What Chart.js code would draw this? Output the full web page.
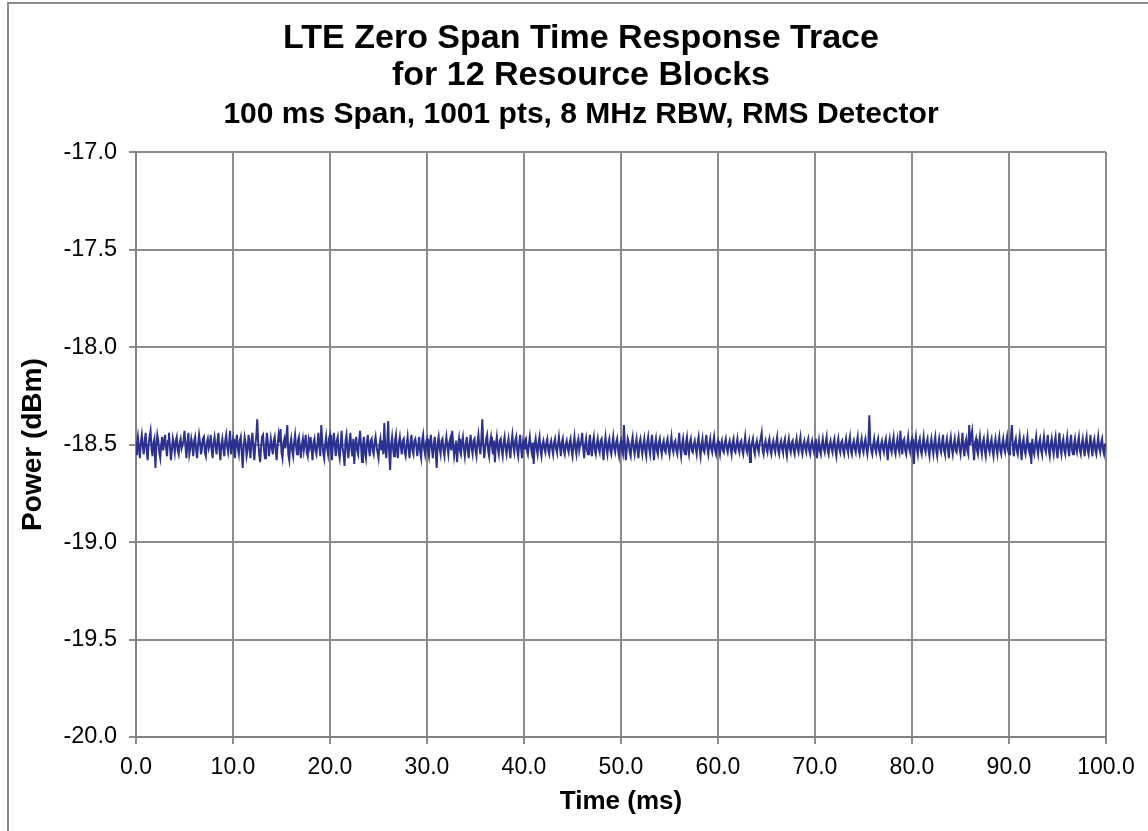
<!DOCTYPE html>
<html>
<head>
<meta charset="utf-8">
<script src="https://cdn.jsdelivr.net/npm/chart.js@4"></script>
<style>
    html, body { margin: 0; padding: 0; background: #fff; overflow: hidden; }
    #wrap { position: relative; width: 1148px; height: 831px; }
    #frame {
        position: absolute; left: 7px; top: 2px; width: 1180px; height: 880px;
        border: 2px solid #8a8a8a; pointer-events: none;
    }
</style>
</head>
<body>
<div id="wrap">
    <canvas id="chart"></canvas>
    <div id="frame"></div>
</div>
<script>
(function () {
    'use strict';

    const titleLines = ['LTE Zero Span Time Response Trace', 'for 12 Resource Blocks'];
    const subtitleText = '100 ms Span, 1001 pts, 8 MHz RBW, RMS Detector';
    const xTitle = 'Time (ms)';
    const yTitle = 'Power (dBm)';

    const stepMs = 0.1;
    const xTicks = [0, 10, 20, 30, 40, 50, 60, 70, 80, 90, 100];
    const yTicks = [-20.0, -19.5, -19.0, -18.5, -18.0, -17.5, -17.0];

    // trace, 1001 pts, one every 0.1 ms
    const power00 = [
        -18.55, -18.50, -18.46, -18.52, -18.57, -18.49, -18.45, -18.51, -18.55, -18.48,
        -18.44, -18.53, -18.58, -18.50, -18.46, -18.43, -18.52, -18.56, -18.49, -18.47,
        -18.62, -18.51, -18.45, -18.48, -18.54, -18.57, -18.50, -18.46, -18.53, -18.49,
        -18.45, -18.52, -18.56, -18.48, -18.44, -18.51, -18.58, -18.53, -18.47, -18.50,
        -18.54, -18.48, -18.46, -18.53, -18.55, -18.49, -18.47, -18.52, -18.50, -18.48,
        -18.43, -18.51, -18.57, -18.49, -18.44, -18.55, -18.52, -18.47, -18.50, -18.56,
        -18.48, -18.46, -18.53, -18.57, -18.50, -18.45, -18.49, -18.55, -18.52, -18.47,
        -18.46, -18.54, -18.56, -18.49, -18.47, -18.52, -18.50, -18.45, -18.53, -18.57,
        -18.49, -18.46, -18.51, -18.55, -18.48, -18.44, -18.53, -18.58, -18.50, -18.47,
        -18.52, -18.56, -18.48, -18.45, -18.51, -18.54, -18.49, -18.43, -18.55, -18.50];
    const power10 = [
        -18.47, -18.53, -18.57, -18.49, -18.45, -18.52, -18.55, -18.48, -18.46, -18.54,
        -18.62, -18.51, -18.46, -18.49, -18.56, -18.53, -18.45, -18.50, -18.57, -18.48,
        -18.44, -18.52, -18.58, -18.50, -18.46, -18.37, -18.49, -18.55, -18.59, -18.51,
        -18.46, -18.45, -18.53, -18.57, -18.50, -18.44, -18.49, -18.56, -18.52, -18.47,
        -18.51, -18.55, -18.48, -18.46, -18.53, -18.58, -18.50, -18.45, -18.49, -18.42,
        -18.54, -18.57, -18.49, -18.47, -18.52, -18.46, -18.40, -18.55, -18.58, -18.50,
        -18.47, -18.53, -18.56, -18.49, -18.45, -18.51, -18.55, -18.48, -18.46, -18.52,
        -18.57, -18.50, -18.47, -18.53, -18.49, -18.45, -18.54, -18.56, -18.48, -18.51,
        -18.46, -18.52, -18.58, -18.49, -18.47, -18.53, -18.55, -18.50, -18.44, -18.51,
        -18.56, -18.40, -18.48, -18.54, -18.57, -18.50, -18.46, -18.52, -18.55, -18.47];
    const power20 = [
        -18.45, -18.53, -18.58, -18.49, -18.44, -18.51, -18.56, -18.48, -18.46, -18.54,
        -18.57, -18.50, -18.43, -18.52, -18.55, -18.61, -18.48, -18.45, -18.53, -18.57,
        -18.49, -18.44, -18.52, -18.56, -18.47, -18.60, -18.50, -18.46, -18.53, -18.55,
        -18.48, -18.43, -18.51, -18.59, -18.50, -18.46, -18.54, -18.57, -18.49, -18.45,
        -18.52, -18.56, -18.48, -18.47, -18.53, -18.55, -18.49, -18.46, -18.51, -18.54,
        -18.57, -18.50, -18.47, -18.53, -18.48, -18.55, -18.39, -18.52, -18.57, -18.49,
        -18.38, -18.54, -18.63, -18.50, -18.46, -18.52, -18.56, -18.48, -18.45, -18.53,
        -18.57, -18.49, -18.46, -18.51, -18.55, -18.48, -18.47, -18.54, -18.56, -18.50,
        -18.46, -18.52, -18.57, -18.49, -18.45, -18.53, -18.55, -18.48, -18.47, -18.51,
        -18.56, -18.50, -18.46, -18.54, -18.57, -18.48, -18.45, -18.52, -18.55, -18.49];
    const power30 = [
        -18.47, -18.53, -18.56, -18.49, -18.45, -18.52, -18.57, -18.50, -18.46, -18.54,
        -18.62, -18.49, -18.46, -18.52, -18.55, -18.48, -18.47, -18.53, -18.56, -18.50,
        -18.46, -18.51, -18.55, -18.49, -18.47, -18.53, -18.43, -18.50, -18.56, -18.52,
        -18.48, -18.59, -18.51, -18.47, -18.53, -18.55, -18.49, -18.46, -18.52, -18.56,
        -18.50, -18.46, -18.53, -18.57, -18.49, -18.45, -18.52, -18.55, -18.48, -18.47,
        -18.53, -18.56, -18.49, -18.45, -18.51, -18.55, -18.48, -18.37, -18.50, -18.57,
        -18.52, -18.47, -18.45, -18.53, -18.56, -18.49, -18.46, -18.51, -18.55, -18.48,
        -18.59, -18.50, -18.46, -18.52, -18.55, -18.48, -18.47, -18.53, -18.56, -18.49,
        -18.46, -18.52, -18.55, -18.50, -18.47, -18.53, -18.57, -18.49, -18.45, -18.51,
        -18.54, -18.48, -18.46, -18.53, -18.56, -18.50, -18.45, -18.52, -18.57, -18.49];
    const power40 = [
        -18.52, -18.48, -18.47, -18.53, -18.55, -18.50, -18.46, -18.51, -18.54, -18.49,
        -18.60, -18.50, -18.47, -18.52, -18.55, -18.49, -18.46, -18.53, -18.56, -18.50,
        -18.48, -18.52, -18.54, -18.49, -18.47, -18.53, -18.55, -18.50, -18.48, -18.52,
        -18.55, -18.49, -18.47, -18.52, -18.54, -18.50, -18.46, -18.51, -18.56, -18.49,
        -18.47, -18.53, -18.55, -18.50, -18.48, -18.52, -18.54, -18.49, -18.47, -18.53,
        -18.56, -18.50, -18.46, -18.52, -18.55, -18.49, -18.47, -18.53, -18.50, -18.48,
        -18.44, -18.52, -18.57, -18.50, -18.47, -18.53, -18.55, -18.49, -18.45, -18.52,
        -18.56, -18.49, -18.46, -18.53, -18.55, -18.50, -18.47, -18.52, -18.54, -18.48,
        -18.47, -18.53, -18.58, -18.50, -18.46, -18.52, -18.55, -18.49, -18.47, -18.53,
        -18.55, -18.50, -18.46, -18.52, -18.54, -18.49, -18.47, -18.53, -18.56, -18.50];
    const power50 = [
        -18.48, -18.53, -18.55, -18.40, -18.50, -18.58, -18.52, -18.47, -18.49, -18.54,
        -18.56, -18.49, -18.46, -18.52, -18.55, -18.50, -18.47, -18.53, -18.57, -18.49,
        -18.47, -18.52, -18.55, -18.50, -18.47, -18.53, -18.56, -18.49, -18.46, -18.52,
        -18.55, -18.49, -18.45, -18.52, -18.58, -18.50, -18.47, -18.53, -18.55, -18.49,
        -18.47, -18.52, -18.55, -18.50, -18.48, -18.53, -18.54, -18.49, -18.47, -18.52,
        -18.55, -18.50, -18.46, -18.52, -18.54, -18.49, -18.48, -18.53, -18.55, -18.50,
        -18.44, -18.52, -18.56, -18.50, -18.47, -18.53, -18.55, -18.49, -18.46, -18.52,
        -18.55, -18.49, -18.47, -18.53, -18.54, -18.50, -18.48, -18.52, -18.55, -18.49,
        -18.46, -18.52, -18.56, -18.50, -18.47, -18.53, -18.54, -18.49, -18.45, -18.52,
        -18.55, -18.50, -18.47, -18.52, -18.54, -18.49, -18.46, -18.53, -18.55, -18.50];
    const power60 = [
        -18.48, -18.52, -18.55, -18.50, -18.48, -18.53, -18.54, -18.49, -18.47, -18.52,
        -18.54, -18.50, -18.48, -18.52, -18.55, -18.49, -18.47, -18.53, -18.54, -18.50,
        -18.47, -18.52, -18.54, -18.49, -18.48, -18.53, -18.55, -18.50, -18.46, -18.52,
        -18.54, -18.50, -18.48, -18.59, -18.52, -18.49, -18.47, -18.53, -18.55, -18.50,
        -18.48, -18.52, -18.54, -18.49, -18.47, -18.44, -18.53, -18.55, -18.50, -18.48,
        -18.52, -18.54, -18.49, -18.47, -18.53, -18.55, -18.50, -18.48, -18.52, -18.54,
        -18.49, -18.46, -18.53, -18.55, -18.50, -18.48, -18.52, -18.54, -18.49, -18.47,
        -18.53, -18.56, -18.50, -18.47, -18.52, -18.54, -18.49, -18.48, -18.53, -18.55,
        -18.50, -18.47, -18.52, -18.54, -18.49, -18.46, -18.53, -18.55, -18.50, -18.48,
        -18.52, -18.54, -18.49, -18.47, -18.53, -18.55, -18.50, -18.48, -18.52, -18.54];
    const power70 = [
        -18.49, -18.47, -18.57, -18.52, -18.48, -18.53, -18.55, -18.50, -18.47, -18.52,
        -18.54, -18.49, -18.46, -18.53, -18.55, -18.50, -18.48, -18.52, -18.54, -18.49,
        -18.47, -18.53, -18.56, -18.50, -18.47, -18.52, -18.54, -18.49, -18.48, -18.53,
        -18.55, -18.50, -18.47, -18.52, -18.54, -18.49, -18.46, -18.53, -18.55, -18.50,
        -18.48, -18.52, -18.54, -18.49, -18.46, -18.53, -18.55, -18.50, -18.47, -18.52,
        -18.54, -18.49, -18.47, -18.52, -18.55, -18.50, -18.35, -18.49, -18.53, -18.55,
        -18.50, -18.47, -18.52, -18.54, -18.49, -18.47, -18.53, -18.55, -18.50, -18.48,
        -18.52, -18.54, -18.49, -18.47, -18.53, -18.58, -18.50, -18.47, -18.52, -18.54,
        -18.49, -18.46, -18.53, -18.55, -18.50, -18.47, -18.52, -18.54, -18.43, -18.50,
        -18.55, -18.48, -18.47, -18.53, -18.55, -18.50, -18.46, -18.52, -18.54, -18.49];
    const power80 = [
        -18.47, -18.53, -18.60, -18.50, -18.46, -18.52, -18.55, -18.49, -18.47, -18.53,
        -18.55, -18.50, -18.46, -18.52, -18.54, -18.49, -18.47, -18.53, -18.56, -18.50,
        -18.47, -18.52, -18.55, -18.49, -18.46, -18.53, -18.56, -18.50, -18.47, -18.52,
        -18.54, -18.49, -18.45, -18.53, -18.55, -18.50, -18.47, -18.52, -18.57, -18.49,
        -18.46, -18.52, -18.55, -18.50, -18.47, -18.53, -18.54, -18.49, -18.46, -18.52,
        -18.55, -18.50, -18.44, -18.52, -18.56, -18.49, -18.47, -18.53, -18.55, -18.40,
        -18.50, -18.46, -18.43, -18.52, -18.58, -18.49, -18.47, -18.53, -18.55, -18.50,
        -18.46, -18.52, -18.55, -18.49, -18.47, -18.53, -18.56, -18.50, -18.46, -18.52,
        -18.54, -18.49, -18.47, -18.53, -18.56, -18.50, -18.47, -18.52, -18.55, -18.49,
        -18.46, -18.53, -18.55, -18.50, -18.47, -18.52, -18.54, -18.49, -18.46, -18.53];
    const power90 = [
        -18.55, -18.50, -18.46, -18.40, -18.52, -18.56, -18.49, -18.47, -18.53, -18.55,
        -18.50, -18.46, -18.52, -18.58, -18.49, -18.47, -18.53, -18.55, -18.50, -18.46,
        -18.52, -18.54, -18.49, -18.60, -18.47, -18.53, -18.55, -18.50, -18.46, -18.52,
        -18.55, -18.49, -18.47, -18.53, -18.55, -18.50, -18.46, -18.52, -18.54, -18.49,
        -18.45, -18.53, -18.56, -18.50, -18.47, -18.52, -18.55, -18.49, -18.46, -18.53,
        -18.57, -18.50, -18.44, -18.52, -18.55, -18.49, -18.47, -18.53, -18.55, -18.50,
        -18.46, -18.52, -18.56, -18.49, -18.45, -18.53, -18.55, -18.50, -18.47, -18.52,
        -18.54, -18.49, -18.46, -18.53, -18.55, -18.50, -18.47, -18.52, -18.56, -18.49,
        -18.46, -18.53, -18.55, -18.50, -18.45, -18.52, -18.56, -18.49, -18.47, -18.53,
        -18.55, -18.50, -18.46, -18.52, -18.54, -18.49, -18.47, -18.53, -18.55, -18.50,
        -18.50];

    const power = [].concat(power00, power10, power20, power30, power40,
        power50, power60, power70, power80, power90);
    const points = power.map(function (value, i) {
        return { x: i * stepMs, y: value };
    });

    const gridColor = '#8c8c8c';
    const font = 'Liberation Sans, Arial, sans-serif';

    new Chart(document.getElementById('chart'), {
        type: 'line',
        data: {
            datasets: [{
                data: points,
                borderColor: '#2b3190',
                borderWidth: 2,
                pointRadius: 0,
                tension: 0,
                fill: false
            }]
        },
        options: {
            responsive: true,
            maintainAspectRatio: false,
            animation: false,
            layout: { padding: { left: 14, right: 0, top: 0, bottom: 0 } },
            plugins: {
                legend: { display: false },
                tooltip: { enabled: false },
                title: {
                    display: true,
                    text: titleLines,
                    color: '#000',
                    font: { family: font, size: 34, weight: 'bold', lineHeight: 1.09 },
                    padding: { top: 20, bottom: 2 }
                },
                subtitle: {
                    display: true,
                    text: subtitleText,
                    color: '#000',
                    font: { family: font, size: 30, weight: 'bold', lineHeight: 1.2 },
                    padding: { top: 1, bottom: 19 }
                }
            },
            scales: {
                x: {
                    type: 'linear',
                    min: 0,
                    max: 100,
                    afterBuildTicks: function (scale) {
                        scale.ticks = xTicks.map(function (v) { return { value: v }; });
                    },
                    afterFit: function (scale) { scale.height = 94; },
                    ticks: {
                        color: '#000',
                        font: { family: font, size: 23 },
                        padding: 10,
                        maxRotation: 0,
                        callback: function (v) { return Number(v).toFixed(1); }
                    },
                    grid: { color: gridColor, lineWidth: 2, tickLength: 7 },
                    border: { color: '#808080', width: 2 },
                    title: {
                        display: true,
                        text: xTitle,
                        color: '#000',
                        font: { family: font, size: 26, weight: 'bold' },
                        padding: { top: 2, bottom: 14 }
                    }
                },
                y: {
                    min: -20,
                    max: -17,
                    afterBuildTicks: function (scale) {
                        scale.ticks = yTicks.map(function (v) { return { value: v }; });
                    },
                    afterFit: function (scale) { scale.width = 122; },
                    ticks: {
                        color: '#000',
                        font: { family: font, size: 23.5 },
                        padding: 12,
                        callback: function (v) { return Number(v).toFixed(1); }
                    },
                    grid: { color: gridColor, lineWidth: 2, tickLength: 7 },
                    border: { color: '#808080', width: 2 },
                    title: {
                        display: true,
                        text: yTitle,
                        color: '#000',
                        font: { family: font, size: 28, weight: 'bold' },
                        padding: { top: 2, bottom: 10 }
                    }
                },
                yRight: {
                    position: 'right',
                    display: true,
                    afterFit: function (scale) { scale.width = 42; },
                    ticks: { display: false },
                    grid: { display: false },
                    border: { display: false }
                }
            }
        }
    });
})();
</script>
</body>
</html>
